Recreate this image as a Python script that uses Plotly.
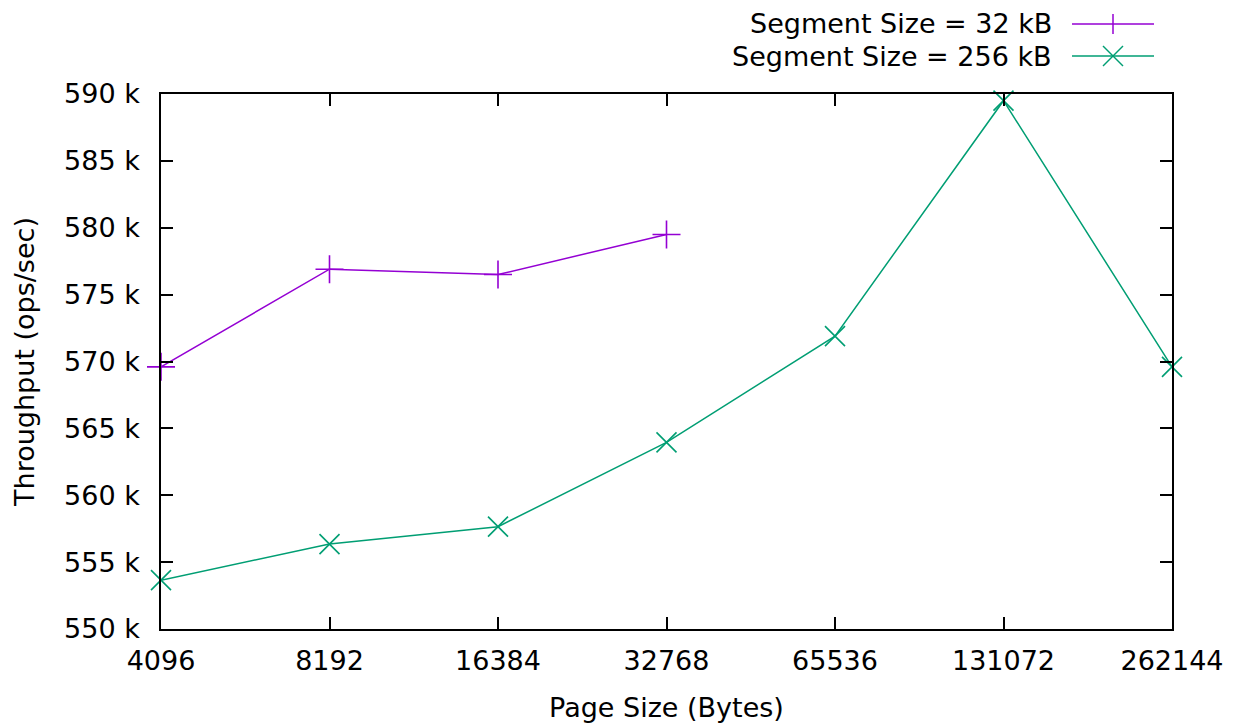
import plotly.graph_objects as go
import math

page_sizes = [4096, 8192, 16384, 32768, 65536, 131072, 262144]
page_labels = ["4096", "8192", "16384", "32768", "65536", "131072", "262144"]

seg32_x = [4096, 8192, 16384, 32768]
seg32_y = [569.6, 576.9, 576.5, 579.5]  # k ops/sec

seg256_x = [4096, 8192, 16384, 32768, 65536, 131072, 262144]
seg256_y = [553.65, 556.35, 557.65, 563.95, 571.9, 589.5, 569.6]  # k ops/sec

y_ticks = [550, 555, 560, 565, 570, 575, 580, 585, 590]
y_labels = [f"{v} k" for v in y_ticks]

names = ["Segment Size = 32 kB", "Segment Size = 256 kB"]
colors = ["#9400d3", "#009e73"]

FONT = "DejaVu Sans"
FS = 27

fig = go.Figure()
fig.add_trace(go.Scatter(
    x=seg32_x, y=seg32_y, mode="lines+markers", name=names[0],
    line=dict(color=colors[0], width=1.5),
    marker=dict(symbol="cross-thin", size=20, line=dict(color=colors[0], width=1.6)),
    showlegend=False, cliponaxis=False,
))
fig.add_trace(go.Scatter(
    x=seg256_x, y=seg256_y, mode="lines+markers", name=names[1],
    line=dict(color=colors[1], width=1.5),
    marker=dict(symbol="x-thin", size=20, line=dict(color=colors[1], width=1.6)),
    showlegend=False, cliponaxis=False,
))

W, H = 1238, 728
L, R, T, B = 161, 66, 94, 99

def px(x):
    return (x - L) / (W - L - R)

def py(y):
    return (H - B - y) / (H - T - B)

shapes = []
annotations = []
leg_y = [24, 56]
for i in range(2):
    yy = py(leg_y[i])
    shapes.append(dict(type="line", xref="paper", yref="paper",
                       x0=px(1072), x1=px(1154), y0=yy, y1=yy,
                       line=dict(color=colors[i], width=1.5)))
    annotations.append(dict(xref="paper", yref="paper", x=px(1054), y=yy,
                            text=names[i], showarrow=False, xanchor="right",
                            yanchor="middle", font=dict(size=FS, family=FONT, color="black")))
# legend marker glyphs
c = px(1113)
hw = 10 / (W - L - R)
hh = 10 / (H - T - B)
y0 = py(leg_y[0])
shapes.append(dict(type="line", xref="paper", yref="paper", x0=c, x1=c, y0=y0 - hh, y1=y0 + hh,
                   line=dict(color=colors[0], width=1.5)))
y1 = py(leg_y[1])
shapes.append(dict(type="line", xref="paper", yref="paper", x0=c - hw, x1=c + hw, y0=y1 - hh, y1=y1 + hh,
                   line=dict(color=colors[1], width=1.5)))
shapes.append(dict(type="line", xref="paper", yref="paper", x0=c - hw, x1=c + hw, y0=y1 + hh, y1=y1 - hh,
                   line=dict(color=colors[1], width=1.5)))

eps = 1e-6
fig.update_layout(
    width=W, height=H,
    margin=dict(l=L, r=R, t=T, b=B, pad=0),
    paper_bgcolor="white", plot_bgcolor="white",
    font=dict(family=FONT, size=FS, color="black"),
    shapes=shapes, annotations=annotations,
    xaxis=dict(
        type="log",
        range=[math.log10(page_sizes[0]) - eps, math.log10(page_sizes[-1]) + eps],
        tickvals=page_sizes, ticktext=page_labels,
        ticks="inside", ticklen=12, tickwidth=1.5, tickcolor="black",
        showline=True, linecolor="black", linewidth=1.5, mirror="allticks",
        showgrid=False, zeroline=False, automargin=False,
        ticklabelstandoff=7,
        title=dict(text="Page Size (Bytes)", standoff=23, font=dict(size=FS)),
    ),
    yaxis=dict(
        range=[550, 590],
        tickvals=y_ticks, ticktext=y_labels,
        ticks="inside", ticklen=12, tickwidth=1.5, tickcolor="black",
        showline=True, linecolor="black", linewidth=1.5, mirror="allticks",
        showgrid=False, zeroline=False, automargin=False,
        ticklabelstandoff=14,
        title=dict(text="Throughput (ops/sec)", standoff=22, font=dict(size=FS)),
    ),
)

fig.write_html("out.html")
